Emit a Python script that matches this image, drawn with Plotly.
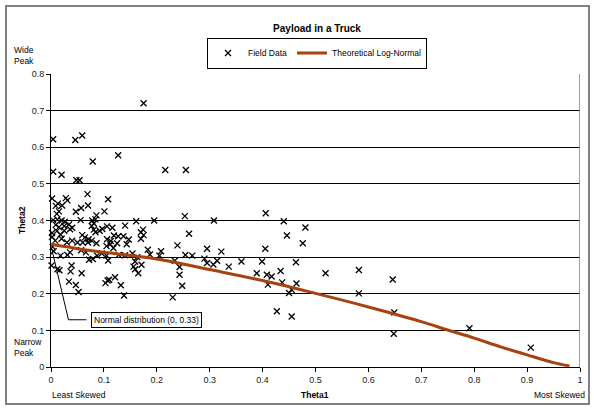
import plotly.graph_objects as go

# ---- data ----
field_theta1 = [
    0.175, 0.004, 0.046, 0.059, 0.127, 0.079, 0.216, 0.255, 0.004, 0.020, 0.048, 0.054,
    0.002, 0.009, 0.013, 0.028, 0.031, 0.021, 0.069, 0.108, 0.070, 0.057, 0.047, 0.101,
    0.086, 0.015, 0.011, 0.253, 0.406, 0.308, 0.440, 0.481, 0.195, 0.161,
    0.004, 0.012, 0.020, 0.026, 0.056, 0.078, 0.081, 0.084, 0.009, 0.015, 0.025, 0.034,
    0.040, 0.077, 0.081, 0.106, 0.116, 0.140, 0.174, 0.170, 0.175, 0.084, 0.092, 0.097,
    0.002, 0.011, 0.018, 0.025, 0.036, 0.059, 0.064, 0.071, 0.077, 0.119, 0.127, 0.137,
    0.147, 0.106, 0.113, 0.170, 0.261, 0.446, 0.476,
    0.002, 0.008, 0.020, 0.030, 0.040, 0.050, 0.060, 0.070, 0.086, 0.125, 0.143, 0.003,
    0.005, 0.018, 0.031, 0.036, 0.057, 0.066, 0.072, 0.079, 0.087, 0.096, 0.105, 0.112,
    0.118, 0.105, 0.108, 0.128, 0.140, 0.154, 0.163, 0.183, 0.171, 0.159, 0.156, 0.159,
    0.165, 0.187, 0.208, 0.205, 0.239, 0.254, 0.267, 0.234, 0.290, 0.295, 0.322, 0.295,
    0.307, 0.314, 0.336, 0.360, 0.399, 0.405, 0.463, 0.243, 0.243, 0.248, 0.230, 0.389,
    0.408, 0.417, 0.410, 0.434, 0.437, 0.464, 0.455, 0.450, 0.519, 0.582, 0.582, 0.646,
    0.649, 0.648, 0.791, 0.907, 0.427, 0.455,
    0.001, 0.012, 0.016, 0.039, 0.037, 0.058, 0.034, 0.047, 0.052, 0.103, 0.107, 0.110,
    0.121, 0.132, 0.138,
]
field_theta2 = [
    0.720, 0.622, 0.620, 0.632, 0.578, 0.561, 0.538, 0.538, 0.533, 0.525, 0.510, 0.510,
    0.460, 0.440, 0.446, 0.461, 0.455, 0.441, 0.472, 0.458, 0.441, 0.434, 0.424, 0.425,
    0.414, 0.425, 0.418, 0.412, 0.420, 0.400, 0.398, 0.381, 0.400, 0.398,
    0.401, 0.403, 0.400, 0.397, 0.401, 0.400, 0.392, 0.403, 0.388, 0.382, 0.385, 0.389,
    0.380, 0.385, 0.375, 0.384, 0.380, 0.386, 0.375, 0.368, 0.360, 0.368, 0.372, 0.377,
    0.366, 0.371, 0.362, 0.372, 0.376, 0.360, 0.354, 0.349, 0.345, 0.359, 0.357, 0.357,
    0.348, 0.349, 0.344, 0.350, 0.364, 0.359, 0.338,
    0.355, 0.345, 0.350, 0.340, 0.345, 0.340, 0.340, 0.340, 0.338, 0.338, 0.335, 0.328,
    0.316, 0.304, 0.306, 0.313, 0.319, 0.313, 0.293, 0.295, 0.304, 0.310, 0.330, 0.335,
    0.325, 0.304, 0.291, 0.306, 0.305, 0.310, 0.300, 0.320, 0.279, 0.288, 0.274, 0.267,
    0.256, 0.307, 0.316, 0.304, 0.332, 0.306, 0.304, 0.290, 0.296, 0.323, 0.315, 0.284,
    0.280, 0.290, 0.274, 0.288, 0.288, 0.323, 0.286, 0.273, 0.252, 0.222, 0.190, 0.256,
    0.252, 0.247, 0.225, 0.262, 0.231, 0.228, 0.211, 0.202, 0.256, 0.265, 0.201, 0.239,
    0.149, 0.091, 0.106, 0.053, 0.152, 0.138,
    0.277, 0.267, 0.264, 0.277, 0.261, 0.256, 0.233, 0.224, 0.205, 0.229, 0.236, 0.238,
    0.245, 0.223, 0.195,
]

curve_theta1 = [0.0, 0.05, 0.1, 0.2, 0.3, 0.4, 0.5, 0.6, 0.7, 0.75, 0.8, 0.85, 0.9, 0.95, 0.98]
curve_theta2 = [0.335, 0.323, 0.313, 0.295, 0.266, 0.236, 0.201, 0.164, 0.124, 0.101, 0.079,
                0.055, 0.033, 0.012, 0.003]

normal_point = (0.0, 0.33)
x_ticks = [0, 0.1, 0.2, 0.3, 0.4, 0.5, 0.6, 0.7, 0.8, 0.9, 1]
y_ticks = [0, 0.1, 0.2, 0.3, 0.4, 0.5, 0.6, 0.7, 0.8]

FONT = "Liberation Sans, Arial, sans-serif"
CURVE_COLOR = "#A8420E"

fig = go.Figure()
fig.add_trace(go.Scatter(
    x=field_theta1, y=field_theta2, mode="markers", name="Field Data",
    marker=dict(symbol="x-thin", size=6, color="black", line=dict(color="black", width=1.3)),
    cliponaxis=False,
))
fig.add_trace(go.Scatter(
    x=curve_theta1, y=curve_theta2, mode="lines", name="Theoretical Log-Normal",
    line=dict(color=CURVE_COLOR, width=3, shape="spline"),
    cliponaxis=False,
))

W, H = 594, 409
L, R, T, B = 51, 14, 74, 42
pw, ph = W - L - R, H - T - B


def px(xp):
    return (xp - L) / pw


def py(yp):
    return (H - B - yp) / ph


fig.update_layout(
    width=W, height=H,
    margin=dict(l=L, r=R, t=T, b=B),
    paper_bgcolor="white", plot_bgcolor="white",
    font=dict(family=FONT, size=9, color="black"),
    showlegend=True,
    legend=dict(
        orientation="h", x=px(317), xanchor="center", y=py(53), yanchor="middle",
        bordercolor="black", borderwidth=1, bgcolor="white",
        font=dict(family=FONT, size=8.5, color="black"),
        itemwidth=30, tracegroupgap=0,
    ),
    title=dict(text="<b>Payload in a Truck</b>", x=317 / W, xanchor="center",
               y=1 - 28 / H, yanchor="middle",
               font=dict(family=FONT, size=10, color="black")),
    xaxis=dict(range=[0, 1], tickvals=x_ticks, ticktext=[("%g" % v) for v in x_ticks],
               showgrid=False, zeroline=False, showline=True, linecolor="black",
               linewidth=1, ticks="outside", ticklen=4, tickcolor="black",
               tickfont=dict(family=FONT, size=9, color="#222")),
    yaxis=dict(range=[0, 0.8], tickvals=y_ticks, ticktext=[("%g" % v) for v in y_ticks],
               showgrid=True, gridcolor="black", gridwidth=1, zeroline=False,
               showline=True, linecolor="black", linewidth=1, ticks="outside",
               ticklen=4, tickcolor="black",
               tickfont=dict(family=FONT, size=9, color="#222")),
)

# outer chart border and plot-area right border
fig.add_shape(type="rect", xref="paper", yref="paper",
              x0=px(6), x1=px(589), y0=py(404), y1=py(6),
              line=dict(color="#808080", width=2), layer="below")
fig.add_shape(type="line", xref="x", yref="y", x0=1, x1=1, y0=0, y1=0.8,
              line=dict(color="#808080", width=1.5))

# annotation leader and label
nx, ny = normal_point
fig.add_shape(type="path", xref="x", yref="y",
              path=f"M {nx + 0.001} {ny - 0.005} L 0.033 0.129 L 0.067 0.129",
              line=dict(color="black", width=1))
fig.add_annotation(x=0.0756, y=0.128, xref="x", yref="y", xanchor="left", yanchor="middle",
                   text=f"Normal distribution ({nx:g}, {ny:g})", showarrow=False,
                   bordercolor="black", borderwidth=1, borderpad=2, bgcolor="white",
                   font=dict(family=FONT, size=8.5, color="black"))

texts = [
    dict(text="<b>Theta2</b>", x=px(22), y=py(220), textangle=-90, xanchor="center"),
    dict(text="<b>Theta1</b>", x=px(315), y=py(395), xanchor="center"),
    dict(text="Least Skewed", x=px(50), y=py(395), xanchor="left"),
    dict(text="Most Skewed", x=px(587), y=py(395), xanchor="right"),
    dict(text="Wide<br>Peak", x=px(12), y=py(56), xanchor="left", align="left"),
    dict(text="Narrow<br>Peak", x=px(12), y=py(347), xanchor="left", align="left"),
]
for t in texts:
    fig.add_annotation(xref="paper", yref="paper", yanchor="middle", showarrow=False,
                       font=dict(family=FONT, size=8.5, color="black"), **t)

fig.write_html("out.html")
